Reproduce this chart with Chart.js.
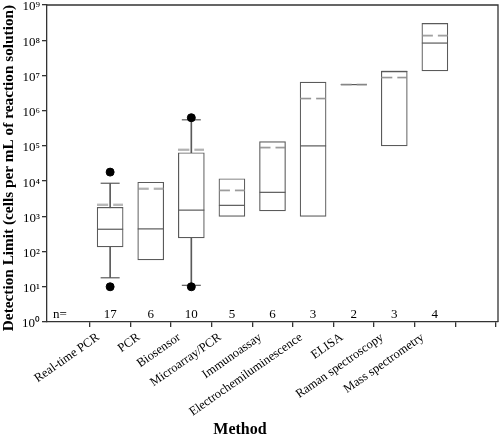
<!DOCTYPE html>
<html>
<head>
<meta charset="utf-8">
<script src="https://cdn.jsdelivr.net/npm/chart.js@4.4.0/dist/chart.umd.min.js"></script>
<style>
  html, body { margin: 0; padding: 0; background: #fff; }
  canvas { display: block; }
</style>
</head>
<body>
<canvas id="boxChart" width="500" height="436"></canvas>
<script>
// detection limit per method (cells per mL of reaction solution)
const methods = ['Real-time PCR', 'PCR', 'Biosensor', 'Microarray/PCR', 'Immunoassay',
    'Electrochemiluminescence', 'ELISA', 'Raman spectroscopy', 'Mass spectrometry'];
const counts = [17, 6, 10, 5, 6, 3, 2, 3, 4];
const q1 = [135, 58, 245, 1000, 1420, 1000, 5.5e6, 1e5, 1.35e7];
const q3 = [1800, 9300, 64000, 11700, 132000, 6.5e6, 5.5e6, 1.3e7, 3e8];
const medians = [430, 440, 1500, 2050, 4800, 1e5, 5.5e6, 1.3e7, 8.3e7];
const means = [2100, 6000, 77000, 5500, 89000, 2.2e6, 5.5e6, 8.7e6, 1.34e8];
const whiskerLow = [18, null, 11, null, null, null, null, null, null];
const whiskerHigh = [8700, null, 550000, null, null, null, null, null, null];
const outlierMethod = [1, 1, 3, 3];
const outlierValues = [10, 18000, 10, 630000];
const yTicks = [1, 1e1, 1e2, 1e3, 1e4, 1e5, 1e6, 1e7, 1e8, 1e9];
const sup = ['⁰', '¹', '²', '³', '⁴', '⁵', '⁶', '⁷', '⁸', '⁹'];

const boxColor = '#5a5a5a';
const serif = '"Liberation Serif", "Times New Roman", serif';

// dashed mean marker
const meanMark = document.createElement('canvas');
meanMark.width = 26;
meanMark.height = 3;
const mctx = meanMark.getContext('2d');
mctx.strokeStyle = '#8c8c8c';
mctx.lineWidth = 1.6;
mctx.setLineDash([11, 5]);
mctx.beginPath();
mctx.moveTo(0, 1.5);
mctx.lineTo(26, 1.5);
mctx.stroke();

const annotate = {
    id: 'annotate',
    afterDraw(chart) {
        const { ctx, chartArea: area, scales: { x } } = chart;
        ctx.save();
        // frame
        ctx.strokeStyle = '#333';
        ctx.lineWidth = 1.3;
        ctx.beginPath();
        ctx.moveTo(area.left, area.top);
        ctx.lineTo(area.right, area.top);
        ctx.lineTo(area.right, area.bottom);
        ctx.stroke();
        // sample sizes
        ctx.fillStyle = '#000';
        ctx.font = '13px ' + serif;
        ctx.textAlign = 'center';
        ctx.textBaseline = 'alphabetic';
        ctx.fillText('n=', area.left + 13, area.bottom - 4);
        counts.forEach((n, i) => ctx.fillText(String(n), x.getPixelForValue(i + 1), area.bottom - 4));
        // axis titles
        ctx.font = 'bold 16px ' + serif;
        ctx.fillText('Method', 240, 434);
        ctx.translate(13, 168);
        ctx.rotate(-Math.PI / 2);
        ctx.font = 'bold 15.3px ' + serif;
        ctx.fillText('Detection Limit (cells per mL of reaction solution)', 0, 0);
        ctx.restore();
    }
};

const ctx = document.getElementById('boxChart').getContext('2d');
const config = {
    type: 'bar',
    data: {
        datasets: [{
            label: 'whiskers',
            data: methods.map((m, i) => ({ x: i + 1, y: whiskerLow[i] === null ? null : [whiskerLow[i], whiskerHigh[i]] })),
            backgroundColor: boxColor,
            barThickness: 1,
            grouped: false,
            order: 5
        }, {
            label: 'boxes',
            data: methods.map((m, i) => ({ x: i + 1, y: [q1[i], q3[i]] })),
            backgroundColor: '#fff',
            borderColor: boxColor,
            borderWidth: 1.2,
            borderSkipped: false,
            barThickness: 26,
            grouped: false,
            order: 4
        }, {
            type: 'scatter',
            label: 'caps',
            data: methods.flatMap((m, i) => whiskerLow[i] === null ? [] :
                [{ x: i + 1, y: whiskerLow[i] }, { x: i + 1, y: whiskerHigh[i] }]),
            pointStyle: 'line',
            pointRadius: 9.5,
            pointBorderWidth: 1.2,
            borderColor: boxColor,
            order: 3
        }, {
            type: 'scatter',
            label: 'median',
            data: methods.map((m, i) => ({ x: i + 1, y: medians[i] })),
            pointStyle: 'line',
            pointRadius: 13,
            pointBorderWidth: 1.2,
            borderColor: boxColor,
            order: 2
        }, {
            type: 'scatter',
            label: 'mean',
            data: methods.map((m, i) => ({ x: i + 1, y: means[i] })),
            pointStyle: meanMark,
            pointRadius: 13,
            order: 1
        }, {
            type: 'scatter',
            label: 'outliers',
            data: outlierMethod.map((m, i) => ({ x: m, y: outlierValues[i] })),
            pointStyle: 'circle',
            pointRadius: 4,
            backgroundColor: '#000',
            borderColor: '#000',
            order: 0
        }]
    },
    options: {
        responsive: false,
        animation: false,
        layout: { autoPadding: false, padding: { top: 5, right: 2, left: 0, bottom: 0 } },
        plugins: {
            legend: { display: false },
            tooltip: { enabled: false }
        },
        scales: {
            x: {
                type: 'linear',
                min: 0,
                max: 10,
                afterBuildTicks: (scale) => { scale.ticks = methods.map((m, i) => ({ value: i + 1 })).concat([{ value: 10 }]); },
                afterFit: (scale) => {
                    scale.height = 114;
                    scale.paddingLeft = 0;
                    scale.paddingRight = 0;
                },
                grid: { drawOnChartArea: false, tickLength: 5, color: '#333', lineWidth: 1.3 },
                border: { color: '#333', width: 1.3 },
                ticks: {
                    autoSkip: false,
                    minRotation: 35,
                    maxRotation: 35,
                    padding: 3,
                    labelOffset: -12,
                    color: '#000',
                    font: { family: serif, size: 12.5 },
                    callback: (v) => methods[v - 1] || ''
                }
            },
            y: {
                type: 'logarithmic',
                min: 1,
                max: 1e9,
                afterBuildTicks: (scale) => { scale.ticks = yTicks.map(v => ({ value: v })); },
                afterFit: (scale) => {
                    scale.width = 47;
                    scale.paddingTop = 0;
                    scale.paddingBottom = 0;
                },
                grid: { drawOnChartArea: false, tickLength: 5, color: '#333', lineWidth: 1.3 },
                border: { color: '#333', width: 1.3 },
                ticks: {
                    padding: 2,
                    labelOffset: 2,
                    color: '#000',
                    font: { family: serif, size: 13 },
                    callback: (v) => '10' + sup[Math.round(Math.log10(v))]
                }
            }
        }
    },
    plugins: [annotate]
};
const boxChart = new Chart(ctx, config);
</script>
</body>
</html>
